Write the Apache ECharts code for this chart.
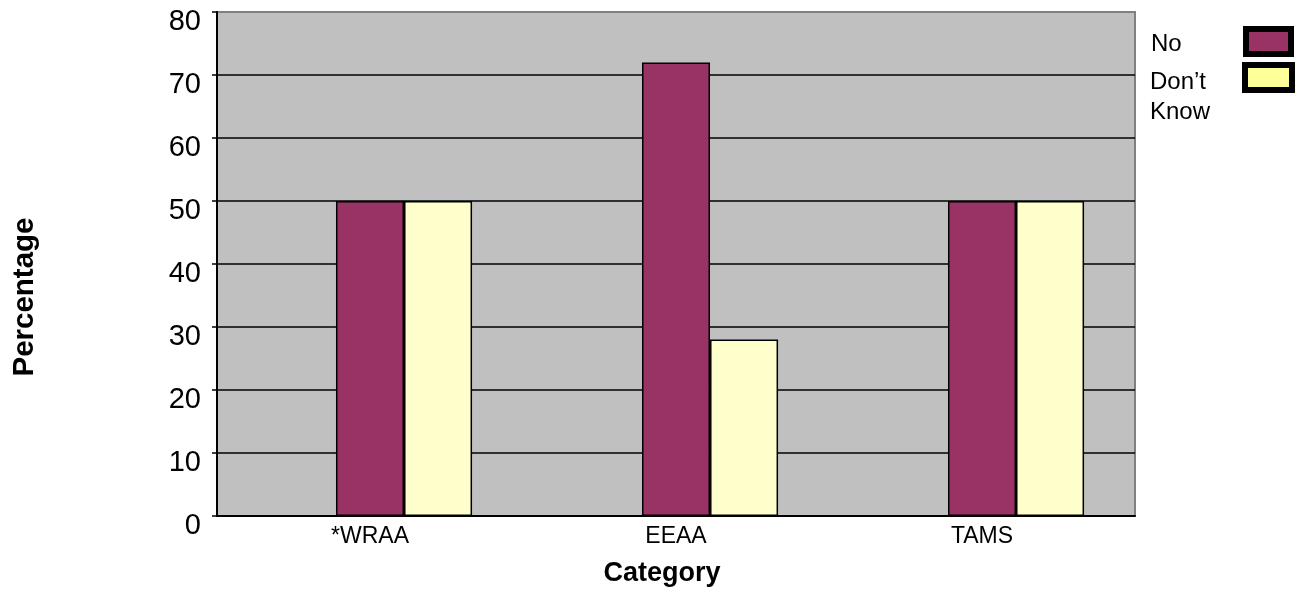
<!DOCTYPE html>
<html>
<head>
<meta charset="utf-8">
<title>Percentage by Category</title>
<script src="https://cdn.jsdelivr.net/npm/echarts@6/dist/echarts.min.js"></script>
<style>
  html, body { margin: 0; padding: 0; background: #ffffff; }
  #chart { width: 1301px; height: 589px; }
</style>
</head>
<body>
<div id="chart"></div>
<script>
// Category labels along the x axis
const categories = ['*WRAA', 'EEAA', 'TAMS'];
// Percentages per answer; the first slot in each group holds no bar
const yesValues = [null, null, null];
const noValues = [50, 72, 50];
const dontKnowValues = [50, 28, 50];
// Legend entries
const legendLabels = ['No', 'Don\u2019t\nKnow'];

const FONT = '"Liberation Sans", Arial, Helvetica, sans-serif';
const chart = echarts.init(document.getElementById('chart'), null, { renderer: 'canvas' });

const barBorder = { borderColor: '#000000', borderWidth: 1.5 };

chart.setOption({
  animation: false,
  backgroundColor: '#ffffff',
  grid: {
    left: 217, right: 166, top: 12, bottom: 73,
    containLabel: false,
    outerBoundsMode: 'none',
    show: true,
    backgroundColor: '#c0c0c0',
    borderColor: '#808080',
    borderWidth: 2
  },
  xAxis: {
    type: 'category',
    data: categories,
    name: 'Category',
    nameLocation: 'middle',
    nameGap: 44,
    nameTextStyle: { fontFamily: FONT, fontSize: 27, fontWeight: 'bold', color: '#000', padding: [0, 28, 0, 0] },
    axisLine: { lineStyle: { color: '#000', width: 2 } },
    axisTick: { show: false },
    axisLabel: { fontFamily: FONT, fontSize: 23, color: '#000', margin: 9 }
  },
  yAxis: {
    type: 'value',
    min: 0, max: 80, interval: 10,
    name: 'Percentage',
    nameLocation: 'middle',
    nameRotate: 90,
    nameGap: 177,
    nameTextStyle: { fontFamily: FONT, fontSize: 29.5, fontWeight: 'bold', color: '#000', padding: [0, 66, 0, 0] },
    axisLine: { show: true, lineStyle: { color: '#000', width: 2 } },
    axisTick: { show: true, inside: false, length: 5, lineStyle: { color: '#000', width: 1.5 } },
    // labels sit slightly below their tick
    axisLabel: { fontFamily: FONT, fontSize: 29, color: '#000', margin: 16, verticalAlign: 'top', lineHeight: 20 },
    splitLine: {
      show: true,
      lineStyle: { color: ['#000', '#000', '#000', '#000', '#000', '#000', '#000', '#000', '#808080'], width: 1.5 }
    }
  },
  series: [
    { name: 'Yes', type: 'bar', data: yesValues, barGap: '0%', barCategoryGap: '33.3%',
      itemStyle: Object.assign({ color: '#9999ff' }, barBorder) },
    { name: 'No', type: 'bar', data: noValues, barGap: '0%', barCategoryGap: '33.3%',
      itemStyle: Object.assign({ color: '#993366' }, barBorder) },
    { name: 'Don\u2019t Know', type: 'bar', data: dontKnowValues, barGap: '0%', barCategoryGap: '33.3%',
      itemStyle: Object.assign({ color: '#ffffcc' }, barBorder) }
  ],
  graphic: [
    // Legend: text on the left, framed swatches on the right
    { type: 'text', left: 1151, top: 32,
      style: { text: legendLabels[0], font: '24px ' + FONT, fill: '#000' } },
    { type: 'text', left: 1150, top: 67,
      style: { text: legendLabels[1], font: '24px ' + FONT, fill: '#000', lineHeight: 30 } },
    { type: 'rect', shape: { x: 1246, y: 29, width: 45, height: 25 },
      style: { fill: '#993366', stroke: '#000', lineWidth: 6 } },
    { type: 'rect', shape: { x: 1245, y: 65, width: 47, height: 25 },
      style: { fill: '#ffff99', stroke: '#000', lineWidth: 6 } }
  ]
});
</script>
</body>
</html>
